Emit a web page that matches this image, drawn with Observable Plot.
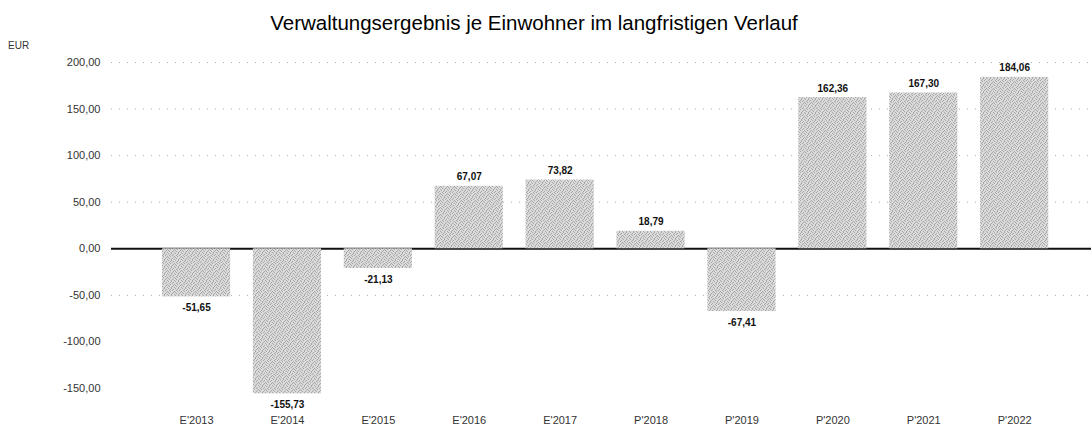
<!DOCTYPE html>
<html>
<head>
<meta charset="utf-8">
<script src="https://cdn.jsdelivr.net/npm/d3@7"></script>
<script src="https://cdn.jsdelivr.net/npm/@observablehq/plot@0.6"></script>
<style>
  body { margin: 0; background: #fff; font-family: "Liberation Sans", Arial, sans-serif; }
  #wrap { position: relative; width: 1091px; height: 434px; }
  #title { position: absolute; left: 0; top: 13px; width: 1068px; text-align: center; font-size: 20.5px; line-height: 20px; color: #000; z-index: 2; }
  #unit { position: absolute; left: 8px; top: 40px; font-size: 10px; color: #333; z-index: 2; }
  #chart { position: absolute; left: 0; top: 36px; z-index: 1; }
</style>
</head>
<body>
<div id="wrap">
  <div id="chart"></div>
  <div id="title">Verwaltungsergebnis je Einwohner im langfristigen Verlauf</div>
  <div id="unit">EUR</div>
</div>
<script>
const categories = ["E'2013", "E'2014", "E'2015", "E'2016", "E'2017", "P'2018", "P'2019", "P'2020", "P'2021", "P'2022"];
const values = [-51.65, -155.73, -21.13, 67.07, 73.82, 18.79, -67.41, 162.36, 167.30, 184.06];
const yTicks = [-150, -100, -50, 0, 50, 100, 150, 200];
const gridTicks = [-50, 50, 100, 150, 200];

const data = categories.map((c, i) => ({cat: c, value: values[i]}));
const de = d3.formatLocale({decimal: ",", thousands: ".", grouping: [3], currency: ["", " €"], minus: "-"});
const fmt = de.format(".2f");

const chart = Plot.plot({
  width: 1091,
  height: 398,
  marginLeft: 111,
  marginRight: 0,
  marginTop: 0,
  marginBottom: 18,
  style: {fontFamily: "Liberation Sans, Arial, sans-serif", background: "transparent"},
  x: {domain: categories, range: [116.5, 1093.7], paddingInner: 0.25, paddingOuter: 0.5, round: false},
  y: {domain: [-150, 200], range: [352, 26]},
  marks: [
    Plot.ruleY(gridTicks, {stroke: "#aaaaaa", strokeDasharray: "1 7", strokeWidth: 1}),
    Plot.ruleY([0], {stroke: "#111", strokeWidth: 2}),
    Plot.barY(data, {x: "cat", y: "value", fill: "url(#stip)"}),
    Plot.text(data.filter(d => d.value >= 0), {x: "cat", y: "value", text: d => fmt(d.value), lineAnchor: "bottom", dy: -6, fontSize: 10, fontWeight: "bold", fill: "#111"}),
    Plot.text(data.filter(d => d.value < 0), {x: "cat", y: "value", text: d => fmt(d.value), lineAnchor: "top", dy: 7, fontSize: 10, fontWeight: "bold", fill: "#111"}),
    Plot.axisY(yTicks, {tickSize: 0, tickPadding: 11, tickFormat: fmt, fontSize: 11, fill: "#333", label: null}),
    Plot.axisX({tickSize: 0, tickPadding: 0, fontSize: 11, fill: "#333", label: null})
  ]
});
// stipple pattern for the bars (fixed, hand-placed dot tile)
const ns = "http://www.w3.org/2000/svg";
const defs = document.createElementNS(ns, "defs");
const pat = document.createElementNS(ns, "pattern");
pat.setAttribute("id", "stip");
pat.setAttribute("width", "7");
pat.setAttribute("height", "7");
pat.setAttribute("patternUnits", "userSpaceOnUse");
const bg = document.createElementNS(ns, "rect");
bg.setAttribute("width", "7"); bg.setAttribute("height", "7"); bg.setAttribute("fill", "#dadada");
pat.appendChild(bg);
const tileDots = [[0,0],[3,0],[5,1],[1,2],[4,2],[6,3],[2,3],[0,4],[4,5],[1,5],[6,6],[3,6],[5,4],[2,1]];
tileDots.forEach(([px, py]) => {
  const r = document.createElementNS(ns, "rect");
  r.setAttribute("x", px); r.setAttribute("y", py);
  r.setAttribute("width", "1"); r.setAttribute("height", "1");
  r.setAttribute("fill", "#a8a8a8");
  pat.appendChild(r);
});
defs.appendChild(pat);
chart.insertBefore(defs, chart.firstChild);
document.getElementById("chart").appendChild(chart);
</script>
</body>
</html>
